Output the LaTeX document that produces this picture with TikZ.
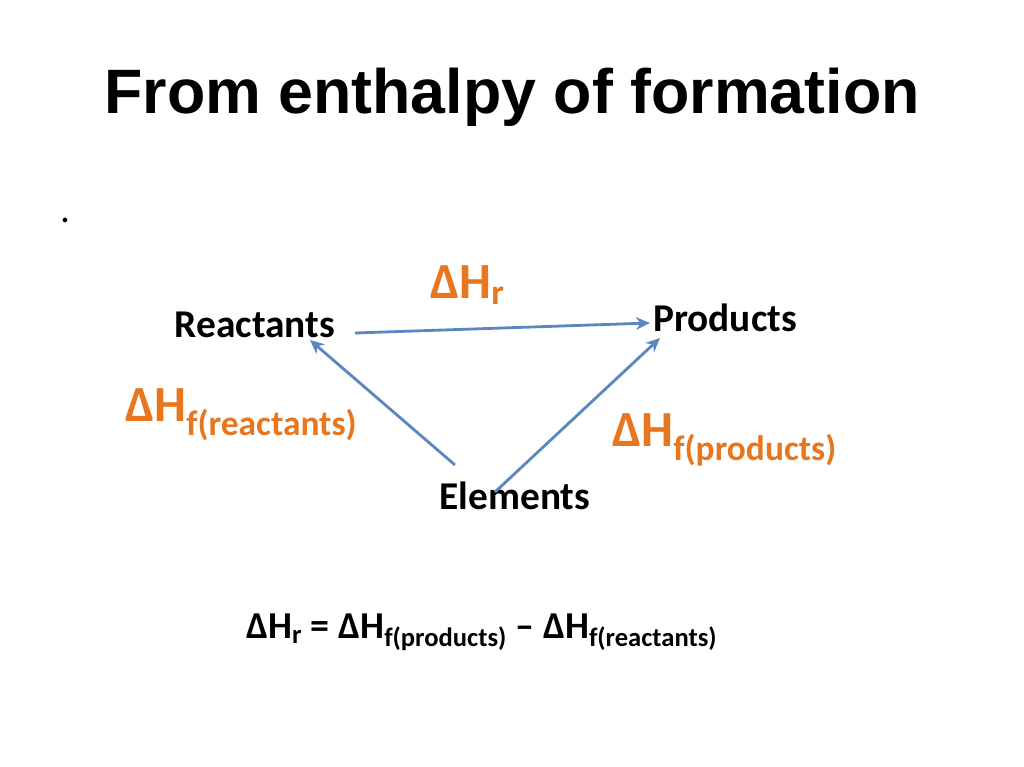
\documentclass[tikz,border=0pt]{standalone}
\usepackage{fontspec}
\usetikzlibrary{arrows.meta}
\setmainfont{Carlito}
\newfontfamily\titlefont{Liberation Sans}
\definecolor{orng}{HTML}{E8761E}
\definecolor{arrblue}{HTML}{5B87C0}
\begin{document}
\begin{tikzpicture}[x=0.025cm,y=-0.025cm,
  lbl/.style={font=\fontsize{28}{32}\selectfont\bfseries,inner sep=0pt},
  dh/.style={font=\fontsize{36}{40}\selectfont\bfseries,text=orng,inner sep=0pt},
  arr/.style={draw=arrblue,line width=2pt,-{Stealth[length=10pt,width=9pt]}}]
\useasboundingbox (0,0) rectangle (1024,767);
\node[font=\titlefont\fontsize{44.6}{48}\selectfont\bfseries] (title) at (512,97) {From enthalpy of formation};
\node[font=\fontsize{28}{30}\selectfont] (dot) at (65,220) {.};
\node[lbl] (r) at (255,325) {Reactants};
\node[lbl] (p) at (725,318) {Products};
\node[lbl] (e) at (515,496) {Elements};
\coordinate (r1) at (355,333);
\coordinate (p1) at (650,323);
\coordinate (r2) at (310,340);
\coordinate (e1) at (455,465);
\coordinate (e2) at (495,492);
\coordinate (p2) at (660,338);
\draw[arr] (r1) -- (p1);
\draw[arr] (e1) -- (r2);
\draw[arr] (e2) -- (p2);
\node[dh,anchor=west] (dhr) at (430,285) {ΔH\textsubscript{r}};
\node[dh,anchor=west] (dhfr) at (125,415) {ΔH\textsubscript{f(reactants)}};
\node[dh,anchor=west] (dhfp) at (612,440) {ΔH\textsubscript{f(products)}};
\node[font=\fontsize{27}{30}\selectfont\bfseries,inner sep=0pt,anchor=west] (eq) at (246,632) {ΔH\textsubscript{r} = ΔH\textsubscript{f(products)} – ΔH\textsubscript{f(reactants)}};
\end{tikzpicture}
\end{document}
